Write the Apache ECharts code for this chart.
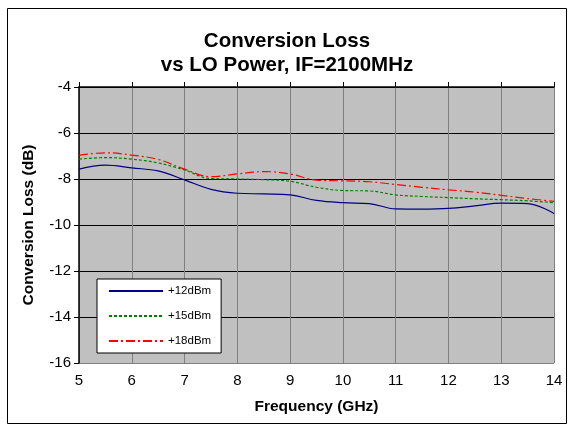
<!DOCTYPE html>
<html><head><meta charset="utf-8">
<script src="https://cdn.jsdelivr.net/npm/echarts@6/dist/echarts.min.js"></script>
<style>html,body{margin:0;padding:0;background:#fff}#c{width:574px;height:427px}</style>
</head><body><div id="c"></div>
<script>
var freq = [5,5.5,6,6.5,7,7.5,8,8.5,9,9.5,10,10.5,11,11.5,12,12.5,13,13.5,14];
var lo12 = [-7.57,-7.4,-7.52,-7.65,-8.04,-8.45,-8.62,-8.65,-8.69,-8.93,-9.03,-9.07,-9.3,-9.31,-9.28,-9.17,-9.05,-9.07,-9.5];
var lo15 = [-7.14,-7.07,-7.14,-7.3,-7.61,-7.98,-8.0,-8.03,-8.1,-8.36,-8.5,-8.52,-8.69,-8.76,-8.81,-8.86,-8.9,-8.95,-9.03];
var lo18 = [-6.97,-6.86,-6.96,-7.15,-7.57,-7.9,-7.78,-7.68,-7.78,-8.05,-8.08,-8.12,-8.24,-8.36,-8.47,-8.57,-8.71,-8.85,-8.97];
var names = ['+12dBm','+15dBm','+18dBm'];
function pairs(v){return freq.map(function(f,i){return [f,v[i]];});}
var chart = echarts.init(document.getElementById('c'));
var F = 'Arial, "Liberation Sans", sans-serif';
chart.setOption({
  animation:false,
  title:{text:'Conversion Loss\nvs LO Power, IF=2100MHz',left:'center',top:24,
    textStyle:{fontFamily:F,fontSize:20.5,fontWeight:'bold',color:'#000',lineHeight:24}},
  graphic:[{type:'rect',shape:{x:7.5,y:8.5,width:559,height:415},style:{fill:null,stroke:'#000',lineWidth:1},z:-1}],
  grid:{left:79,right:20,top:87,bottom:64,backgroundColor:'#c0c0c0',show:true,borderWidth:0},
  legend:{orient:'vertical',left:97,top:279,itemWidth:54,itemHeight:12,itemGap:13,
    padding:[6,10,6,11],backgroundColor:'#fff',borderColor:'#000',borderWidth:1,
    itemStyle:{opacity:0},
    textStyle:{fontFamily:F,fontSize:11.5,color:'#000'},data:names},
  xAxis:[{type:'value',min:5,max:14,interval:1,position:'bottom',
    axisLine:{show:false},axisTick:{show:false},
    axisLabel:{fontFamily:F,fontSize:15,color:'#000',margin:10},
    splitLine:{show:true,lineStyle:{color:'#808080',width:1}},
    name:'Frequency (GHz)',nameLocation:'middle',nameGap:36,
    nameTextStyle:{fontFamily:F,fontSize:15.5,fontWeight:'bold',color:'#000'}},
    {type:'value',min:5,max:14,interval:1,position:'top',
    axisLine:{show:true,lineStyle:{color:'#000',width:1.5}},
    axisTick:{show:true,inside:false,length:5,lineStyle:{color:'#000'}},
    axisLabel:{show:false},splitLine:{show:false}}],
  yAxis:{type:'value',min:-16,max:-4,interval:2,
    axisLine:{show:true,lineStyle:{color:'#000',width:1.5}},
    axisTick:{show:true,length:5,lineStyle:{color:'#000'}},
    axisLabel:{fontFamily:F,fontSize:15,color:'#000',margin:8},
    splitLine:{show:true,lineStyle:{color:['#808080','#000','#000','#000','#000','#000','#000'],width:1}},
    name:'Conversion Loss (dB)',nameLocation:'middle',nameGap:42,
    nameTextStyle:{fontFamily:F,fontSize:15.5,fontWeight:'bold',color:'#000'}},
  series:[
    {name:names[0],type:'line',smooth:0.4,symbol:'none',data:pairs(lo12),
      lineStyle:{color:'#000080',width:1.2},itemStyle:{color:'#000080'}},
    {name:names[1],type:'line',smooth:0.4,symbol:'none',data:pairs(lo15),
      lineStyle:{color:'#008000',width:1.2,type:[3,2]},itemStyle:{color:'#008000'}},
    {name:names[2],type:'line',smooth:0.4,symbol:'none',data:pairs(lo18),
      lineStyle:{color:'#ff0000',width:1.2,type:[9,3,2,3]},itemStyle:{color:'#ff0000'}}
  ]
});
</script></body></html>
